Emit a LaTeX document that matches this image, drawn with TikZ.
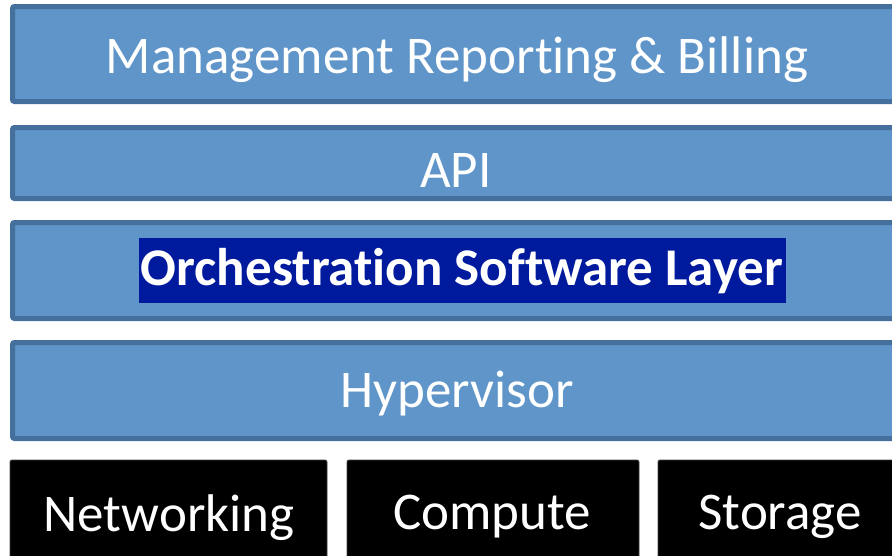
\documentclass[tikz,border=0pt]{standalone}
\usepackage{fontspec}
\setmainfont{Carlito}[Ligatures=NoCommon]
\definecolor{layerfill}{HTML}{5F95C9}
\definecolor{layerline}{HTML}{45709E}
\definecolor{hilite}{HTML}{001A9E}
\definecolor{blkline}{HTML}{404040}
\begin{document}
\begin{tikzpicture}[x=1pt,y=-1pt,
  layer/.style={draw=layerline, fill=layerfill, line width=5pt, rounded corners=2pt,
    inner sep=0pt, outer sep=0pt, anchor=north west},
  hw/.style={draw=blkline, fill=black, line width=0.8pt, rounded corners=2pt,
    inner sep=0pt, outer sep=0pt, anchor=north west},
  lbl/.style={text=white, inner sep=0pt, anchor=base, font=\fontsize{53}{64}\selectfont},
  hl/.style={fill=hilite, text=white, inner sep=0pt, anchor=north west}]
\useasboundingbox (0,0) rectangle (892,555);
\clip (0,0) rectangle (892,555);
% layers
\node[layer, minimum width=900pt, minimum height=95pt] (mgmt) at (12.5,6.5) {};
\node[layer, minimum width=900pt, minimum height=71pt] (api) at (12.5,127.5) {};
\node[layer, minimum width=900pt, minimum height=96pt] (orch) at (12.5,222.5) {};
\node[layer, minimum width=900pt, minimum height=96pt] (hyp) at (12.5,342.5) {};
% highlight
\node[hl, minimum width=647pt, minimum height=65pt] (hlbox) at (139,238) {};
% hardware
\node[hw, minimum width=317pt, minimum height=110pt] (net) at (10,460) {};
\node[hw, minimum width=292pt, minimum height=110pt] (cmp) at (347,460) {};
\node[hw, minimum width=292pt, minimum height=110pt] (sto) at (658,460) {};
% labels
\node[lbl] (tmgmt) at (457,73) {Management Reporting \& Billing};
\node[lbl] (tapi) at (456,187) {API};
\node[lbl, font=\fontsize{53}{64}\selectfont\bfseries] (torch) at (462,285) {Orchestration Software Layer};
\node[lbl] (thyp) at (457,407) {Hypervisor};
\node[lbl] (tnet) at (169,531) {Networking};
\node[lbl] (tcmp) at (492,529) {Compute};
\node[lbl] (tsto) at (780,529) {Storage};
\end{tikzpicture}
\end{document}
